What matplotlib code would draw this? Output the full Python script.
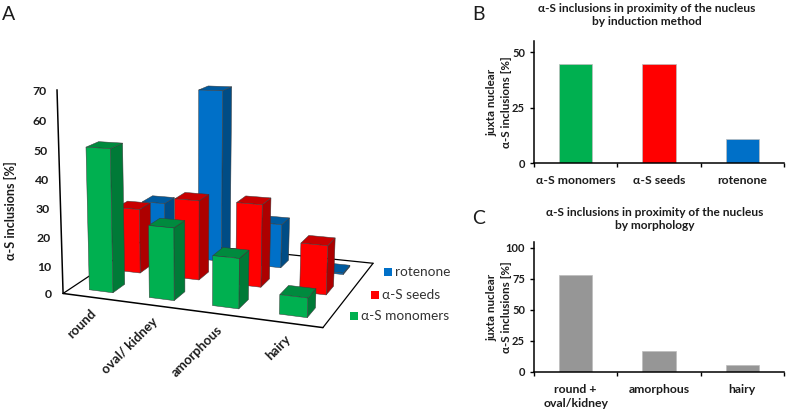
import numpy as np
import matplotlib
matplotlib.use("Agg")
import matplotlib.pyplot as plt

plt.rcParams['font.family'] = ['Lato', 'Open Sans', 'DejaVu Sans']

# ---------- data ----------
morphologies = ['round', 'oval/ kidney', 'amorphous', 'hairy']
monomers = [50, 25, 17, 6.5]
seeds = [23.5, 28.5, 29, 17]
rotenone = [20, 63, 16, 0.5]
z_ticks = [0, 10, 20, 30, 40, 50, 60, 70]

methods = ['α-S monomers', 'α-S seeds', 'rotenone']
method_values = [44.5, 44.5, 11]
b_ticks = [0, 25, 50]

morph_groups = ['round +\noval/kidney', 'amorphous', 'hairy']
morph_values = [78, 16.5, 5.5]
c_ticks = [0, 25, 50, 75, 100]

W, H = 787, 413
DARK = '#1c1c1c'
fig = plt.figure(figsize=(W / 100, H / 100), dpi=100)


def axes_px(x0, y0, x1, y1):
    return fig.add_axes([x0 / W, 1 - y1 / H, (x1 - x0) / W, (y1 - y0) / H])


# ---------- panel A: perspective bars ----------
ax = axes_px(0, 0, W, H)
ax.set_xlim(0, W)
ax.set_ylim(H, 0)
ax.axis('off')

# camera anchors: world (u, v, z) -> pixel
anchors = [((0, 0, 0), (63, 294)), ((1, 0, 0), (323, 327)),
           ((1, 1, 0), (373, 264)), ((0, 1, 0), (144, 239)),
           ((0, 0, 70), (57, 90)), ((1, 0, 70), (330, 100))]
A, b = [], []
for (u, v, z), (px, py) in anchors:
    A.append([u, v, z, 1, 0, 0, 0, 0, -px * u, -px * v, -px * z])
    b.append(px)
    A.append([0, 0, 0, 0, u, v, z, 1, -py * u, -py * v, -py * z])
    b.append(py)
sol = np.linalg.lstsq(np.array(A, float), np.array(b, float), rcond=None)[0]
P = np.append(sol, 1).reshape(3, 4)


def proj(u, v, z):
    q = P @ np.array([u, v, z, 1.0])
    return q[0] / q[2], q[1] / q[2]


def face(pts, color, order):
    ax.fill(*zip(*[proj(*p) for p in pts]), facecolor=color, edgecolor='#3a3a3a',
            linewidth=0.35, zorder=order)


# floor and axes
for p, q, lw in [((0, 0, 0), (1, 0, 0), 1.1), ((1, 0, 0), (1, 1, 0), 0.9),
                 ((1, 1, 0), (0, 1, 0), 0.9), ((0, 1, 0), (0, 0, 0), 0.9),
                 ((0, 0, 0), (0, 0, 70), 1.1)]:
    x, y = zip(proj(*p), proj(*q))
    ax.plot(x, y, color='black', lw=lw, zorder=1, solid_capstyle='round')

series = [(rotenone, 5 / 6, '#0070C8', '#004C85', '#005A9E'),
          (seeds, 1 / 2, '#FF0000', '#AD0000', '#C80000'),
          (monomers, 1 / 6, '#00B050', '#007A37', '#008A3E')]
du, dv = 0.05, 0.07
order = 2
for values, vc, front, side, top in series:
    for i, val in enumerate(values):
        uc = (i + 0.5) / len(values)
        u0, u1, v0, v1 = uc - du, uc + du, vc - dv, vc + dv
        face([(u1, v0, 0), (u1, v1, 0), (u1, v1, val), (u1, v0, val)], side, order)
        face([(u0, v0, val), (u1, v0, val), (u1, v1, val), (u0, v1, val)], top, order)
        face([(u0, v0, 0), (u1, v0, 0), (u1, v0, val), (u0, v0, val)], front, order)
        order += 1

for z in z_ticks:
    x, y = proj(0, 0, z)
    ax.text(x - 11, y + 1.5, str(z), ha='right', va='center', fontsize=8.8,
            fontweight='bold', color=DARK)
for i, name in enumerate(morphologies):
    x, y = proj((i + 0.5) / len(morphologies), 0, 0)
    ax.text(x + 2, y + 14, name, rotation=45, rotation_mode='anchor', ha='right',
            va='center', fontsize=9.5, fontweight='bold', color=DARK)
ax.text(10.5, 211, 'α-S inclusions [%]', rotation=90, ha='center', va='center',
        fontsize=9.1, fontweight='bold', color=DARK)

legend = [('rotenone', '#0070C8', 384, 272), ('α-S seeds', '#FF0000', 371, 295),
          ('α-S monomers', '#00B050', 350, 316)]
for label, color, x, y in legend:
    ax.scatter([x + 4], [y], marker='s', s=36, color=color, linewidths=0, zorder=50)
    ax.text(x + 11, y, label, ha='left', va='center', fontsize=9.8, color='#333333')

ax.text(2, 14, 'A', fontsize=14, ha='left', va='center', color=DARK)
ax.text(472, 14, 'B', fontsize=14, ha='left', va='center', color=DARK)
ax.text(472, 218, 'C', fontsize=14, ha='left', va='center', color=DARK)
ax.text(646.5, 15, 'α-S inclusions in proximity of the nucleus\nby induction method',
        fontsize=8.55, fontweight='bold', ha='center', va='center', color=DARK, linespacing=1.25)
ax.text(655, 219, 'α-S inclusions in proximity of the nucleus\nby morphology',
        fontsize=8.55, fontweight='bold', ha='center', va='center', color=DARK, linespacing=1.25)


# ---------- panels B and C ----------
def bar_panel(box, labels, values, colors, ticks, ymax, label_x):
    a = axes_px(*box)
    a.patch.set_alpha(0)
    pos = np.arange(len(values))
    a.bar(pos, values, width=0.4, color=colors, edgecolor='#bdbdbd', linewidth=0.5)
    a.set_xlim(-0.5, len(values) - 0.5)
    a.set_ylim(0, ymax)
    a.set_yticks(ticks)
    a.set_xticks(np.arange(len(values) + 1) - 0.5)
    a.set_xticklabels([])
    a.set_xticks(pos, labels=labels, minor=True)
    a.tick_params(axis='x', which='minor', length=0, pad=8.5, labelsize=8.85, labelcolor=DARK)
    a.tick_params(axis='x', which='major', length=3, width=1)
    a.tick_params(axis='y', length=3, width=1, pad=3.5, labelsize=8, labelcolor=DARK)
    for t in a.get_xticklabels(minor=True) + a.get_yticklabels():
        t.set_fontweight('bold')
        t.set_linespacing(1.35)
    for s in ('top', 'right'):
        a.spines[s].set_visible(False)
    for s in ('left', 'bottom'):
        a.spines[s].set_linewidth(1.1)
    a.set_ylabel('juxta nuclear\nα-S inclusions [%]', fontsize=8.4, fontweight='bold',
                 color=DARK, linespacing=1.35)
    a.yaxis.set_label_coords(label_x, 0.5)
    return a


bar_panel((534, 41, 784, 163), methods, method_values, ['#00B050', '#FF0000', '#0070C8'],
          b_ticks, 55, -0.09)
bar_panel((534, 242, 784, 372), morph_groups, morph_values, '#969696',
          c_ticks, 104.6, -0.09)

fig.savefig('out.png', dpi=100)
